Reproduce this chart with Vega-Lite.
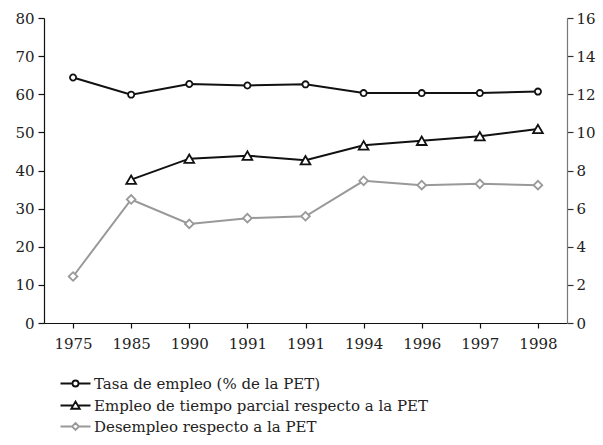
{
  "$schema": "https://vega.github.io/schema/vega-lite/v6.json",
  "width": 523,
  "height": 305,
  "autosize": {"type": "none"},
  "padding": {"left": 44, "top": 18, "right": 36, "bottom": 122},
  "background": "white",
  "config": {
    "font": "DejaVu Serif",
    "view": {"stroke": null},
    "axis": {"labelFont": "DejaVu Serif", "labelFontSize": 15, "labelColor": "#222", "grid": false},
    "legend": {"labelFont": "DejaVu Serif"}
  },
  "data": {
    "values": [
      {"periodo": "1975", "serie": "Tasa de empleo (% de la PET)", "v": 64.4},
      {"periodo": "1985", "serie": "Tasa de empleo (% de la PET)", "v": 59.9},
      {"periodo": "1990", "serie": "Tasa de empleo (% de la PET)", "v": 62.7},
      {"periodo": "1991a", "serie": "Tasa de empleo (% de la PET)", "v": 62.3},
      {"periodo": "1991b", "serie": "Tasa de empleo (% de la PET)", "v": 62.6},
      {"periodo": "1994", "serie": "Tasa de empleo (% de la PET)", "v": 60.3},
      {"periodo": "1996", "serie": "Tasa de empleo (% de la PET)", "v": 60.3},
      {"periodo": "1997", "serie": "Tasa de empleo (% de la PET)", "v": 60.3},
      {"periodo": "1998", "serie": "Tasa de empleo (% de la PET)", "v": 60.7},
      {"periodo": "1985", "serie": "Empleo de tiempo parcial respecto a la PET", "v": 37.6},
      {"periodo": "1990", "serie": "Empleo de tiempo parcial respecto a la PET", "v": 43.1},
      {"periodo": "1991a", "serie": "Empleo de tiempo parcial respecto a la PET", "v": 43.9},
      {"periodo": "1991b", "serie": "Empleo de tiempo parcial respecto a la PET", "v": 42.7},
      {"periodo": "1994", "serie": "Empleo de tiempo parcial respecto a la PET", "v": 46.6},
      {"periodo": "1996", "serie": "Empleo de tiempo parcial respecto a la PET", "v": 47.8},
      {"periodo": "1997", "serie": "Empleo de tiempo parcial respecto a la PET", "v": 49.0},
      {"periodo": "1998", "serie": "Empleo de tiempo parcial respecto a la PET", "v": 50.9},
      {"periodo": "1975", "serie": "Desempleo respecto a la PET", "v": 2.44},
      {"periodo": "1985", "serie": "Desempleo respecto a la PET", "v": 6.48},
      {"periodo": "1990", "serie": "Desempleo respecto a la PET", "v": 5.2},
      {"periodo": "1991a", "serie": "Desempleo respecto a la PET", "v": 5.5},
      {"periodo": "1991b", "serie": "Desempleo respecto a la PET", "v": 5.6},
      {"periodo": "1994", "serie": "Desempleo respecto a la PET", "v": 7.46},
      {"periodo": "1996", "serie": "Desempleo respecto a la PET", "v": 7.23},
      {"periodo": "1997", "serie": "Desempleo respecto a la PET", "v": 7.3},
      {"periodo": "1998", "serie": "Desempleo respecto a la PET", "v": 7.23}
    ]
  },
  "encoding": {
    "x": {
      "field": "periodo",
      "type": "ordinal",
      "sort": ["1975", "1985", "1990", "1991a", "1991b", "1994", "1996", "1997", "1998"],
      "scale": {"paddingInner": 0, "paddingOuter": 0},
      "axis": {
        "title": null,
        "labelAngle": 0,
        "labelExpr": "slice(datum.value, 0, 4)",
        "bandPosition": 0,
        "domainColor": "#111",
        "domainWidth": 1.2,
        "tickColor": "#111",
        "tickWidth": 1.2,
        "tickSize": 5,
        "labelPadding": 8,
        "labelBound": false,
        "labelOverlap": false
      }
    },
    "color": {
      "field": "serie",
      "type": "nominal",
      "sort": ["Tasa de empleo (% de la PET)", "Empleo de tiempo parcial respecto a la PET", "Desempleo respecto a la PET"],
      "scale": {
        "domain": ["Tasa de empleo (% de la PET)", "Empleo de tiempo parcial respecto a la PET", "Desempleo respecto a la PET"],
        "range": ["#111111", "#111111", "#999999"]
      },
      "legend": {
        "title": null,
        "orient": "none",
        "legendX": 24,
        "legendY": 358,
        "direction": "vertical",
        "symbolSize": 100,
        "symbolStrokeWidth": 1.8,
        "symbolFillColor": "white",
        "labelFontSize": 15,
        "labelColor": "#222",
        "labelOffset": 11,
        "labelLimit": 500,
        "rowPadding": 5,
        "encode": {
          "symbols": {
            "update": {
              "shape": {"signal": "datum.value === 'Tasa de empleo (% de la PET)' ? 'M-3,0H-0.6M0.6,0H3M-0.6,0A0.6,0.6 0 1,1 0.6,0A0.6,0.6 0 1,1 -0.6,0Z' : datum.value === 'Desempleo respecto a la PET' ? 'M-3,0H-0.7M0.7,0H3M0,-0.7L0.7,0L0,0.7L-0.7,0Z' : 'M-3,0H-0.5M0.5,0H3M0,-0.8L0.85,0.65L-0.85,0.65Z'"},
              "fill": {"value": "white"},
              "strokeWidth": {"value": 1.8},
              "opacity": {"value": 1}
            }
          }
        }
      }
    }
  },
  "layer": [
    {
      "transform": [{"filter": "datum.serie !== 'Desempleo respecto a la PET'"}],
      "encoding": {
        "y": {
          "field": "v",
          "type": "quantitative",
          "scale": {"domain": [0, 80], "nice": false},
          "axis": {
            "title": null,
            "orient": "left",
            "values": [0, 10, 20, 30, 40, 50, 60, 70, 80],
            "domainColor": "#111",
            "domainWidth": 1.2,
            "tickColor": "#111",
            "tickWidth": 1.2,
            "tickSize": 6,
            "labelPadding": 4
          }
        }
      },
      "layer": [
        {"mark": {"type": "line", "strokeWidth": 2}, "encoding": {"detail": {"field": "serie"}}},
        {
          "mark": {"type": "point", "filled": false, "fill": "white", "fillOpacity": 1, "opacity": 1, "strokeWidth": 1.8},
          "encoding": {
            "shape": {
              "field": "serie",
              "type": "nominal",
              "scale": {"domain": ["Tasa de empleo (% de la PET)", "Empleo de tiempo parcial respecto a la PET"], "range": ["circle", "triangle-up"]},
              "legend": null
            },
            "size": {
              "field": "serie",
              "type": "nominal",
              "scale": {"domain": ["Tasa de empleo (% de la PET)", "Empleo de tiempo parcial respecto a la PET"], "range": [38, 95]},
              "legend": null
            }
          }
        }
      ]
    },
    {
      "transform": [{"filter": "datum.serie === 'Desempleo respecto a la PET'"}],
      "encoding": {
        "y": {
          "field": "v",
          "type": "quantitative",
          "scale": {"domain": [0, 16], "nice": false},
          "axis": {
            "title": null,
            "orient": "right",
            "values": [0, 2, 4, 6, 8, 10, 12, 14, 16],
            "domainColor": "#777",
            "domainWidth": 1.2,
            "tickColor": "#333",
            "tickWidth": 1.2,
            "tickSize": 6,
            "labelPadding": 3
          }
        }
      },
      "layer": [
        {"mark": {"type": "line", "strokeWidth": 2}},
        {"mark": {"type": "point", "shape": "diamond", "size": 75, "filled": false, "fill": "white", "fillOpacity": 1, "opacity": 1, "strokeWidth": 1.8}}
      ]
    }
  ],
  "resolve": {"scale": {"y": "independent", "shape": "independent", "size": "independent"}}
}
